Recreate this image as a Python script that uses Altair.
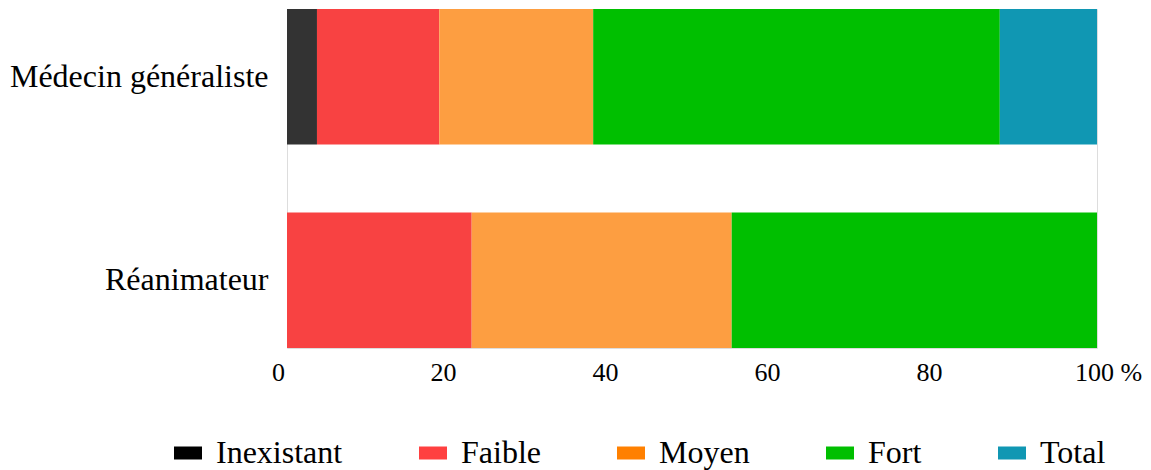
import altair as alt
import pandas as pd

categories = ["Médecin généraliste", "Réanimateur"]
levels = ["Inexistant", "Faible", "Moyen", "Fort", "Total"]
medecin_values = [3.7, 15.1, 19.0, 50.2, 12.0]
reanimateur_values = [0.0, 22.8, 32.1, 45.1, 0.0]
bar_colors = ["#333333", "#F84242", "#FD9E41", "#00BF00", "#1097B3"]
legend_colors = ["#000000", "#FF4040", "#FF8000", "#00BF00", "#1097B3"]
x_ticks = [0, 20, 40, 60, 80, 100]

rows = []
for cat, vals in zip(categories, [medecin_values, reanimateur_values]):
    for i, (lev, v) in enumerate(zip(levels, vals)):
        rows.append({"categorie": cat, "niveau": lev, "valeur": v, "rang": i})
df = pd.DataFrame(rows)

FONT = "Liberation Serif"

label_offset = {
    "condition": [
        {"test": "datum.value == 0", "value": -9},
        {"test": "datum.value == 100", "value": 11},
    ],
    "value": -6,
}

x_enc = alt.X(
    "valeur:Q",
    stack="zero",
    scale=alt.Scale(domain=[0, 100], nice=False, zero=True),
    axis=alt.Axis(
        values=x_ticks,
        title=None,
        domain=False,
        ticks=False,
        grid=False,
        labelFont=FONT,
        labelFontSize=26,
        labelColor="#000000",
        labelPadding=11,
        labelExpr="datum.value == 100 ? '100 %' : datum.label",
        labelOffset=label_offset,
        labelFlush=False,
        labelOverlap=False,
        labelLimit=0,
    ),
)

y_enc = alt.Y(
    "categorie:N",
    sort=categories,
    scale=alt.Scale(paddingInner=0.335, paddingOuter=0),
    axis=alt.Axis(
        title=None,
        domain=False,
        ticks=False,
        grid=False,
        labelFont=FONT,
        labelFontSize=32,
        labelColor="#000000",
        labelPadding=19,
        labelLimit=0,
    ),
)

bars = alt.Chart(df).mark_bar(strokeWidth=0).encode(
    x=x_enc,
    y=y_enc,
    color=alt.Color(
        "niveau:N",
        sort=levels,
        scale=alt.Scale(domain=levels, range=bar_colors),
        legend=None,
    ),
    order=alt.Order("rang:Q", sort="ascending"),
)

legend_layer = alt.Chart(df).mark_point(opacity=0, filled=True, strokeWidth=0).encode(
    x=alt.value(0),
    y=alt.value(0),
    color=alt.Color(
        "niveau:N",
        sort=levels,
        scale=alt.Scale(domain=levels, range=legend_colors),
        legend=alt.Legend(
            title=None,
            orient="none",
            direction="horizontal",
            legendX=-115,
            legendY=428,
            symbolType="M-1,-0.464L1,-0.464L1,0.464L-1,0.464Z",
            symbolSize=784,
            symbolOpacity=1,
            symbolStrokeWidth=0,
            labelFont=FONT,
            labelFontSize=32,
            labelColor="#000000",
            labelOffset=12,
            labelLimit=0,
            columnPadding=74,
            padding=0,
        ),
    ),
)

chart = (
    alt.layer(bars, legend_layer)
    .resolve_scale(color="independent")
    .properties(
        width=810,
        height=339,
        autosize=alt.AutoSizeParams(type="none"),
        padding={"left": 279, "top": 1, "right": 46, "bottom": 122},
    )
    .configure_view(stroke=None, strokeWidth=0)
    .configure_axis(grid=False)
    .configure(background="#ffffff")
)

chart.save("out.html", embed_options={"renderer": "svg", "actions": False})
